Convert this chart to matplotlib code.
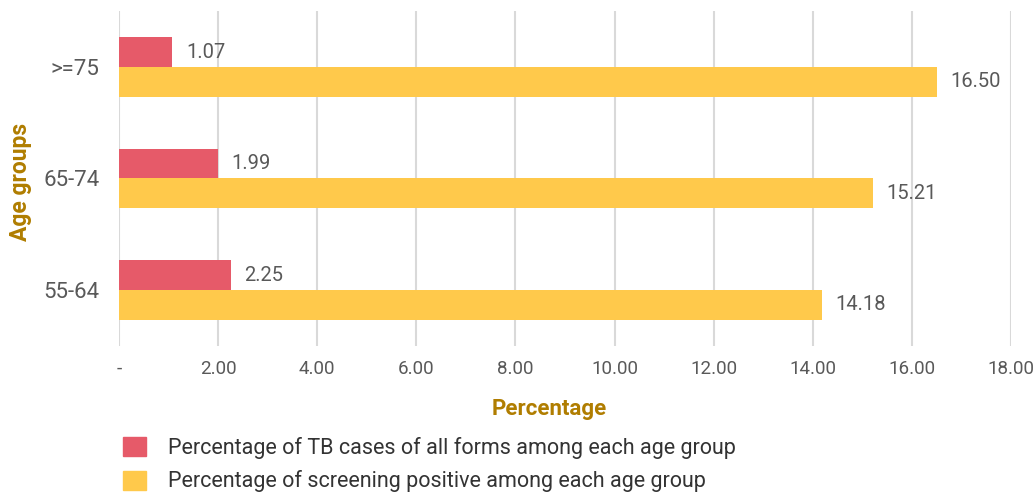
import numpy as np
import matplotlib.pyplot as plt
from matplotlib.patches import Patch

plt.rcParams['font.family'] = ['Roboto', 'DejaVu Sans']

age_groups = ["55-64", "65-74", ">=75"]
tb_cases = [2.25, 1.99, 1.07]
screen_pos = [14.18, 15.21, 16.50]
xticks = [0, 2, 4, 6, 8, 10, 12, 14, 16, 18]
xtick_labels = ["-", "2.00", "4.00", "6.00", "8.00", "10.00", "12.00", "14.00", "16.00", "18.00"]

red = "#E65A69"
yellow = "#FFC94B"
gold = "#B07D00"
grey_txt = "#595959"

fig = plt.figure(figsize=(10.36, 4.93), dpi=100)
ax = fig.add_axes([0.1149, 0.2987, 0.861, 0.6785])

y = np.arange(len(age_groups))
h = 0.265
ax.barh(y + h / 2, tb_cases, height=h, color=red, zorder=3)
ax.barh(y - h / 2, screen_pos, height=h, color=yellow, zorder=3)

# value labels next to the bars
for yi, v in zip(y, tb_cases):
    ax.annotate(f"{v:.2f}", (v, yi + h / 2), xytext=(10, 0), textcoords="offset points",
                va="center", ha="left", fontsize=14.5, color=grey_txt)
for yi, v in zip(y, screen_pos):
    ax.annotate(f"{v:.2f}", (v, yi - h / 2), xytext=(10, 0), textcoords="offset points",
                va="center", ha="left", fontsize=14.5, color=grey_txt)

ax.set_xlim(0, 18)
ax.set_ylim(-0.5, 2.5)
ax.set_xticks(xticks)
ax.set_xticklabels(xtick_labels)
ax.set_yticks(y)
ax.set_yticklabels(age_groups)
ax.tick_params(axis="x", length=0, pad=10, labelsize=13.5, labelcolor=grey_txt)
ax.tick_params(axis="y", length=0, pad=14, labelsize=16, labelcolor=grey_txt)
ax.grid(axis="x", color="#D9D9D9", linewidth=1.5, zorder=0)
for s in ax.spines.values():
    s.set_visible(False)

ax.set_xlabel("Percentage", fontsize=16, fontweight="bold", color=gold)
ax.xaxis.set_label_coords(0.4826, -0.155)
ax.set_ylabel("Age groups", fontsize=16.5, fontweight="bold", color=gold)
ax.yaxis.set_label_coords(-0.098, 0.49)

handles = [Patch(color=red), Patch(color=yellow)]
labels = ["Percentage of TB cases of all forms among each age group",
          "Percentage of screening positive among each age group"]
fig.legend(handles, labels, loc="center left", bbox_to_anchor=(0.1187, 0.0578),
           frameon=False, fontsize=15.5, handlelength=1.07, handleheight=0.98,
           handletextpad=1.0, labelspacing=0.55, labelcolor="#333333",
           borderpad=0, borderaxespad=0)

fig.savefig("out.png", dpi=100)
